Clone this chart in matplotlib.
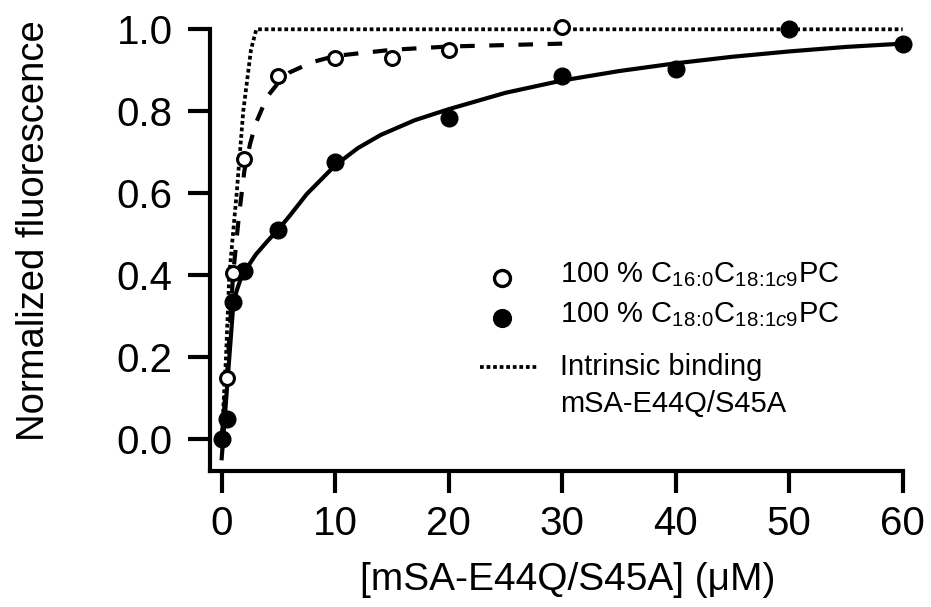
import matplotlib
matplotlib.use("Agg")
import matplotlib.pyplot as plt
from matplotlib.lines import Line2D

plt.rcParams['font.family'] = ['Liberation Sans', 'DejaVu Sans']
plt.rcParams['mathtext.fontset'] = 'custom'
plt.rcParams['mathtext.rm'] = 'Liberation Sans'
plt.rcParams['mathtext.it'] = 'Liberation Sans:italic'
plt.rcParams['mathtext.default'] = 'regular'

# ---- data ----
conc_c16 = [0.5, 1, 2, 5, 10, 15, 20, 30]
fluor_c16 = [0.15, 0.406, 0.683, 0.885, 0.929, 0.930, 0.950, 1.005]

conc_c18 = [0, 0.5, 1, 2, 5, 10, 20, 30, 40, 50, 60]
fluor_c18 = [0.0, 0.05, 0.335, 0.41, 0.51, 0.676, 0.783, 0.885, 0.903, 1.0, 0.965]

# fitted curves
fit_c16_x = [0, 0.5, 1, 1.5, 2, 2.5, 3, 4, 5, 6, 8, 10, 15, 20, 30]
fit_c16_y = [0.0, 0.17, 0.40, 0.54, 0.655, 0.72, 0.77, 0.835, 0.87, 0.895, 0.92, 0.935, 0.95, 0.958, 0.965]

fit_c18_x = [0, 1, 1.3, 1.6, 2, 3, 4, 5, 6, 7.5, 10, 12, 14, 17, 20, 25, 30, 35, 40, 45, 50, 55, 60]
fit_c18_y = [-0.047, 0.32, 0.36, 0.385, 0.408, 0.45, 0.482, 0.512, 0.545, 0.598, 0.668, 0.71, 0.742,
             0.778, 0.805, 0.845, 0.875, 0.898, 0.917, 0.933, 0.946, 0.957, 0.965]

intrinsic_x = [0, 0.38, 0.67, 1.32, 1.9, 2.58, 3.05, 60]
intrinsic_y = [0.0, 0.2, 0.4, 0.6, 0.8, 0.95, 1.0, 1.0]

xticks = [0, 10, 20, 30, 40, 50, 60]
yticks = [0.0, 0.2, 0.4, 0.6, 0.8, 1.0]
ytick_labels = ['0.0', '0.2', '0.4', '0.6', '0.8', '1.0']

label_c16 = r'100 % C$_{16\!:\!0}$C$_{18\!:\!1\mathit{c9}}$PC'
label_c18 = r'100 % C$_{18\!:\!0}$C$_{18\!:\!1\mathit{c9}}$PC'
label_intr = 'Intrinsic binding'
label_intr2 = 'mSA-E44Q/S45A'

# ---- figure ----
W, H = 931, 607
fig = plt.figure(figsize=(W / 100, H / 100), dpi=100)
ax = fig.add_axes([210 / W, (H - 470.7) / H, (902.7 - 210) / W, (470.7 - 29.3) / H])
ax.set_xlim(-1.03, 60)
ax.set_ylim(-0.0774, 1.0)

lw = 3.0
dotted = (0, (1.0, 0.75))
ax.plot(intrinsic_x, intrinsic_y, color='black', lw=2.7, linestyle=dotted,
        dash_capstyle='butt', clip_on=False, zorder=2)
ax.plot(fit_c16_x, fit_c16_y, color='black', lw=lw, linestyle=(0, (3.5, 3.5)),
        dash_capstyle='butt', clip_on=False, zorder=2)
ax.plot(fit_c18_x, fit_c18_y, color='black', lw=lw, linestyle='-', clip_on=False, zorder=2)

ax.plot(conc_c18, fluor_c18, linestyle='none', marker='o', markersize=12,
        markerfacecolor='black', markeredgecolor='black', clip_on=False, zorder=3)
ax.plot(conc_c16, fluor_c16, linestyle='none', marker='o', markersize=10,
        markerfacecolor='white', markeredgecolor='black', markeredgewidth=2.2,
        clip_on=False, zorder=4)

for s in ['top', 'right']:
    ax.spines[s].set_visible(False)
for s in ['left', 'bottom']:
    ax.spines[s].set_linewidth(3)

ax.set_xticks(xticks)
ax.set_yticks(yticks)
ax.set_yticklabels(ytick_labels)
ax.tick_params(axis='both', direction='out', length=16, width=3, labelsize=29)
ax.tick_params(axis='y', pad=11)
ax.tick_params(axis='x', pad=9)

ax.set_xlabel('[mSA-E44Q/S45A] (\u03bcM)', fontsize=28)
ax.xaxis.set_label_coords((568 - 210) / 692.7, (470.7 - 562) / 441.4)
ax.set_ylabel('Normalized fluorescence', fontsize=27.5)
ax.yaxis.set_label_coords((52 - 210) / 692.7, (470.7 - 231) / 441.4)

# ---- legend (placed in pixel positions) ----
def fx(px):
    return px / W

def fy(py):
    return (H - py) / H

fig.add_artist(Line2D([fx(501.7)], [fy(278)], transform=fig.transFigure, linestyle='none',
                      marker='o', markersize=11.5, markerfacecolor='white',
                      markeredgecolor='black', markeredgewidth=2.4))
fig.add_artist(Line2D([fx(501.7)], [fy(318)], transform=fig.transFigure, linestyle='none',
                      marker='o', markersize=12.8, markerfacecolor='black',
                      markeredgecolor='black'))
fig.add_artist(Line2D([fx(480), fx(537)], [fy(366.7), fy(366.7)], transform=fig.transFigure,
                      color='black', lw=2.7, linestyle=dotted, dash_capstyle='butt'))

leg_fs = 21
fig.text(fx(560), fy(282), label_c16, fontsize=leg_fs, va='baseline', ha='left')
fig.text(fx(560), fy(322), label_c18, fontsize=leg_fs, va='baseline', ha='left')
fig.text(fx(560), fy(375), label_intr, fontsize=leg_fs, va='baseline', ha='left')
fig.text(fx(560), fy(412), label_intr2, fontsize=leg_fs, va='baseline', ha='left')

fig.savefig('out.png', dpi=100)
